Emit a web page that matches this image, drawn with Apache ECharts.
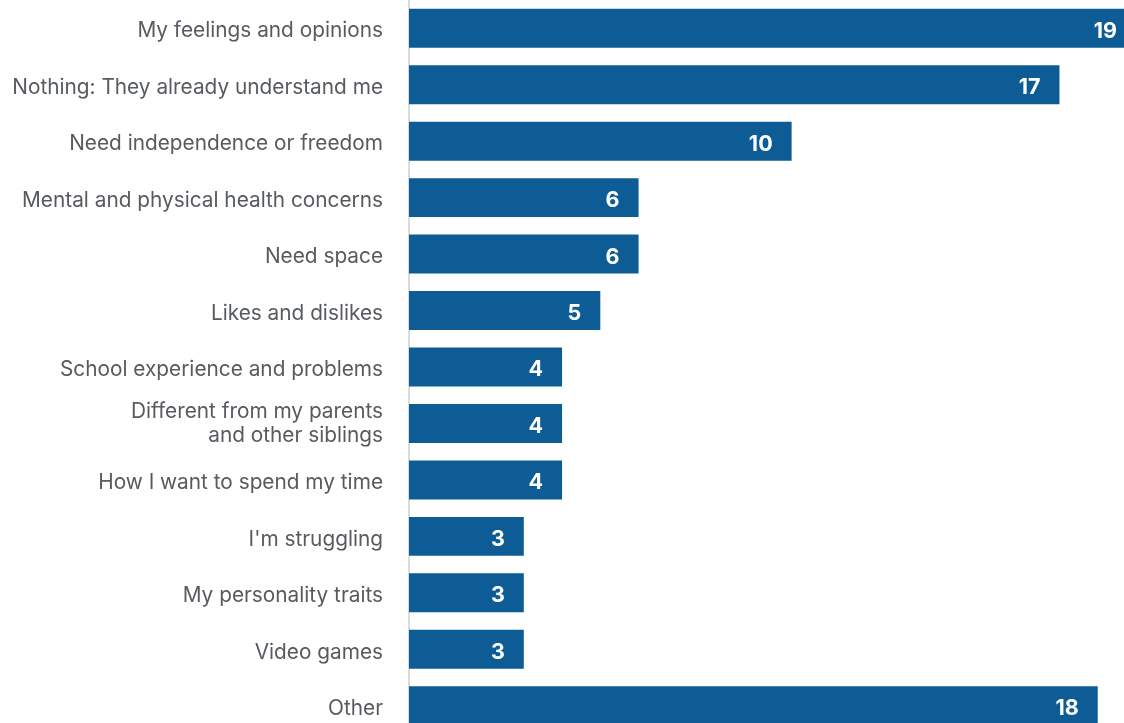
<!DOCTYPE html>
<html>
<head>
<meta charset="utf-8">
<script src="https://cdn.jsdelivr.net/npm/echarts@6/dist/echarts.min.js"></script>
<style>
  html, body { margin: 0; padding: 0; background: #ffffff; overflow: hidden; }
  /* The plot runs slightly past the window edges on the right and bottom */
  #chart { width: 1136px; height: 734px; }
</style>
</head>
<body>
<div id="chart"></div>
<script>
// Response categories, top to bottom
const categories = [
  'My feelings and opinions',
  'Nothing: They already understand me',
  'Need independence or freedom',
  'Mental and physical health concerns',
  'Need space',
  'Likes and dislikes',
  'School experience and problems',
  'Different from my parents\nand other siblings',
  'How I want to spend my time',
  "I'm struggling",
  'My personality traits',
  'Video games',
  'Other'
];
// Counts per category
const counts = [19, 17, 10, 6, 6, 5, 4, 4, 4, 3, 3, 3, 18];

const chart = echarts.init(document.getElementById('chart'), null, { renderer: 'canvas' });

const labelFont = {
  color: '#575b5f',
  fontFamily: 'Inter',
  fontSize: 20.8,
  lineHeight: 24
};

chart.setOption({
  animation: false,
  grid: { left: 409, right: 0, top: 0, bottom: 0, containLabel: false },
  xAxis: {
    type: 'value',
    min: 0,
    max: 19,
    show: false
  },
  yAxis: {
    type: 'category',
    data: categories,
    inverse: true,
    axisLine: { show: true, lineStyle: { color: '#cfcfcf', width: 1.5 } },
    axisTick: { show: false },
    axisLabel: Object.assign({
      margin: 26,
      align: 'right',
      // single-line labels sit a little below the bar centre
      formatter: function (v) {
        if (v.indexOf('\n') === -1) {
          return '{one|' + v + '}';
        }
        return v.split('\n').map(function (l) {
          return '{multi|' + l + '}';
        }).join('\n');
      },
      rich: {
        one: Object.assign({ padding: [6, 0, 0, 0] }, labelFont),
        multi: Object.assign({}, labelFont)
      }
    }, labelFont)
  },
  series: [{
    type: 'bar',
    data: counts,
    barCategoryGap: '31%',
    itemStyle: { color: '#0e5c96' },
    label: {
      show: true,
      position: 'insideRight',
      distance: 19,
      offset: [0, 3],
      color: '#ffffff',
      fontFamily: 'Inter',
      fontWeight: 'bold',
      fontSize: 21.5
    }
  }]
});
</script>
</body>
</html>
